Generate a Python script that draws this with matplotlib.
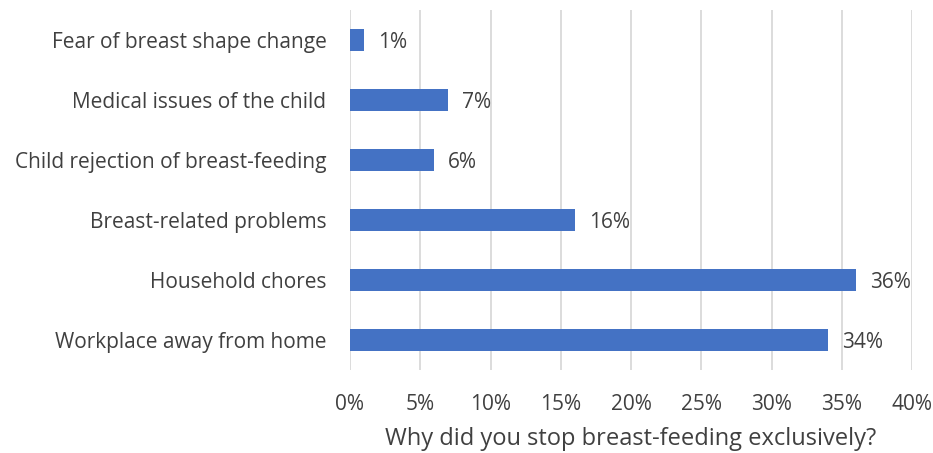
import matplotlib
matplotlib.use("Agg")
import matplotlib.pyplot as plt
from matplotlib.ticker import FuncFormatter, MultipleLocator

categories = ["Workplace away from home", "Household chores", "Breast-related problems",
              "Child rejection of breast-feeding", "Medical issues of the child",
              "Fear of breast shape change"]
values = [34, 36, 16, 6, 7, 1]
xlabel = "Why did you stop breast-feeding exclusively?"

plt.rcParams['font.family'] = ['Open Sans', 'DejaVu Sans']
text_color = "#404040"

fig = plt.figure(figsize=(9.33, 4.53), dpi=100)
ax = fig.add_axes([350/933, 1-370/453, (912-350)/933, 360/453])

y = list(range(len(categories)))
ax.barh(y, values, height=0.36, color="#4472C4", zorder=3)
for yi, v in zip(y, values):
    ax.annotate(f"{v}%", (v, yi), xytext=(10, -1.5), textcoords="offset points",
                va="center", ha="left", fontsize=15, color=text_color)

ax.set_xlim(0, 40)
ax.set_ylim(-0.5, len(categories) - 0.5)
ax.xaxis.set_major_locator(MultipleLocator(5))
ax.xaxis.set_major_formatter(FuncFormatter(lambda v, p: f"{int(v)}%"))
ax.set_yticks(y)
ax.set_yticklabels(categories)
ax.grid(axis="x", color="#D9D9D9", linewidth=1.3, zorder=0)
for s in ax.spines.values():
    s.set_visible(False)
ax.tick_params(axis="both", length=0, labelsize=15, colors=text_color)
ax.tick_params(axis="y", pad=17)
ax.tick_params(axis="x", pad=17)
ax.set_xlabel(xlabel, fontsize=17, color=text_color, labelpad=9)

fig.savefig("out.png", dpi=100)
